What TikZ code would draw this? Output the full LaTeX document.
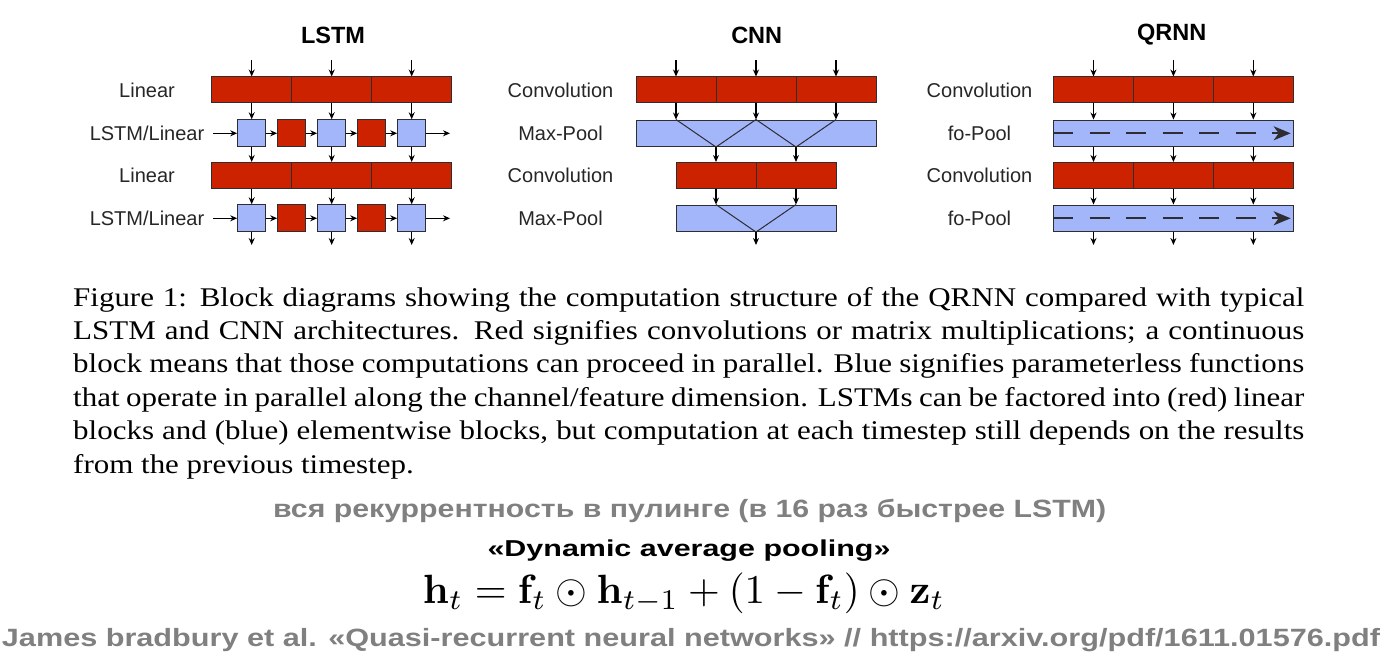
\documentclass[tikz,border=0pt]{standalone}
\usepackage[no-math]{fontspec}
\usepackage{amsmath}
\usepackage{graphicx}
\usepackage{xcolor}
\setmainfont{Liberation Serif}
\newfontfamily\diagfont{Liberation Sans}
\usetikzlibrary{arrows.meta}
\definecolor{convred}{RGB}{204,34,0}
\definecolor{poolblue}{RGB}{164,182,250}
\definecolor{edgegray}{RGB}{45,45,50}
\definecolor{notegray}{RGB}{128,128,128}

\begin{document}
\begin{tikzpicture}[x=1pt, y=-1pt,
    seg/.style={draw=edgegray, line width=1pt, fill=convred, minimum width=80pt, minimum height=26pt, inner sep=0pt},
    cell/.style={draw=edgegray, line width=1pt, minimum width=28pt, minimum height=27pt, inner sep=0pt},
    poolbar/.style={draw=edgegray, line width=1pt, fill=poolblue, minimum height=26.5pt, inner sep=0pt},
    rowname/.style={font=\diagfont\fontsize{20}{20}\selectfont, text=black!85, text height=14.5pt, text depth=0pt, inner sep=0pt},
    paneltitle/.style={font=\diagfont\bfseries\fontsize{23.5}{23.5}\selectfont, inner sep=0pt},
    arrow/.style={-{Stealth[length=7pt,width=6pt]}, line width=1.1pt},
    fopool/.style={-{Stealth[length=17pt,width=14pt,inset=5pt]}, line width=2pt, edgegray, dash pattern=on 20pt off 16.5pt}
]
\useasboundingbox (0,0) rectangle (1389,652);

% LSTM
\node[paneltitle] (lstm) at (333,35) {LSTM};
\node[rowname] (lstmlin1) at (147,90.5) {Linear};
\node[rowname] (lstmrow1) at (147,133.3) {LSTM/Linear};
\node[rowname] (lstmlin2) at (147,175.5) {Linear};
\node[rowname] (lstmrow2) at (147,218.3) {LSTM/Linear};
\foreach \i/\x in {1/251.7,2/331.7,3/411.7} {
  \node[seg] (lin1-\i) at (\x,90) {};
  \node[seg] (lin2-\i) at (\x,175.5) {};
  \node[cell, fill=poolblue] (ua-\i) at (\x,133.3) {};
  \node[cell, fill=poolblue] (ub-\i) at (\x,218.3) {};
  \coordinate (linin-\i) at (\x,60);
  \coordinate (ubout-\i) at (\x,245);
  \draw[arrow] (linin-\i) -- (lin1-\i);
  \draw[arrow] (lin1-\i) -- (ua-\i);
  \draw[arrow] (ua-\i) -- (lin2-\i);
  \draw[arrow] (lin2-\i) -- (ub-\i);
  \draw[arrow] (ub-\i) -- (ubout-\i);
}
\foreach \i/\x in {1/291.7,2/371.7} {
  \node[cell, fill=convred] (ra-\i) at (\x,133.3) {};
  \node[cell, fill=convred] (rb-\i) at (\x,218.3) {};
}
\foreach \r/\y in {a/133.3,b/218.3} {
  \coordinate (hin-\r) at (213,\y);
  \coordinate (hout-\r) at (450,\y);
  \draw[arrow] (hin-\r) -- (u\r-1);
  \draw[arrow] (u\r-1) -- (r\r-1);
  \draw[arrow] (r\r-1) -- (u\r-2);
  \draw[arrow] (u\r-2) -- (r\r-2);
  \draw[arrow] (r\r-2) -- (u\r-3);
  \draw[arrow] (u\r-3) -- (hout-\r);
}

% CNN
\node[paneltitle] (cnn) at (756.7,35) {CNN};
\node[rowname] (cnnconv1) at (560.5,90.5) {Convolution};
\node[rowname] (cnnpool1) at (560.5,133.3) {Max-Pool};
\node[rowname] (cnnconv2) at (560.5,175.5) {Convolution};
\node[rowname] (cnnpool2) at (560.5,218.3) {Max-Pool};
\node[poolbar, minimum width=240pt] (cp1) at (756,133.3) {};
\node[poolbar, minimum width=160pt] (cp2) at (756,218.3) {};
\foreach \i/\x in {1/676,2/756,3/836} {
  \node[seg] (cc1-\i) at (\x,90) {};
  \coordinate (ccin-\i) at (\x,60);
  \draw[arrow] (ccin-\i) -- (cc1-\i);
  \draw[arrow] (cc1-\i) -- (cc1-\i |- cp1.north);
}
\foreach \i/\x in {1/716,2/796} {
  \node[seg] (cc2-\i) at (\x,175.5) {};
  \draw[arrow] (cc2-\i |- cp1.south) -- (cc2-\i);
  \draw[arrow] (cc2-\i) -- (cc2-\i |- cp2.north);
}
\draw[edgegray, line width=1pt] (cc1-1 |- cp1.north) -- (cc2-1 |- cp1.south) -- (cc1-2 |- cp1.north) -- (cc2-2 |- cp1.south) -- (cc1-3 |- cp1.north);
\draw[edgegray, line width=1pt] (cc2-1 |- cp2.north) -- (cp2.south) -- (cc2-2 |- cp2.north);
\coordinate (cpout) at (756,245);
\draw[arrow] (cp2.south) -- (cpout);

% QRNN
\node[paneltitle] (qrnn) at (1171.7,35) {QRNN};
\node[rowname] (qconv1) at (979.5,90.5) {Convolution};
\node[rowname] (qpool1) at (979.5,133.3) {fo-Pool};
\node[rowname] (qconv2) at (979.5,175.5) {Convolution};
\node[rowname] (qpool2) at (979.5,218.3) {fo-Pool};
\node[poolbar, minimum width=239.5pt] (qp1) at (1173.4,133.3) {};
\node[poolbar, minimum width=239.5pt] (qp2) at (1173.4,218.3) {};
\foreach \i/\x in {1/1093.5,2/1173.4,3/1253.3} {
  \node[seg] (qc1-\i) at (\x,90) {};
  \node[seg] (qc2-\i) at (\x,175.5) {};
  \coordinate (qin-\i) at (\x,60);
  \coordinate (qout-\i) at (\x,245);
  \draw[arrow] (qin-\i) -- (qc1-\i);
  \draw[arrow] (qc1-\i) -- (qc1-\i |- qp1.north);
  \draw[arrow] (qc1-\i |- qp1.south) -- (qc2-\i);
  \draw[arrow] (qc2-\i) -- (qc2-\i |- qp2.north);
  \draw[arrow] (qc2-\i |- qp2.south) -- (qout-\i);
}
\draw[fopool] (qp1.west) -- ([xshift=-3pt]qp1.east);
\draw[fopool] (qp2.west) -- ([xshift=-3pt]qp2.east);

% caption and notes
\node[anchor=base west, inner sep=0pt] (caption) at (73,306) {\scalebox{1.147}[1]{\parbox[t]{1073.3pt}{\fontsize{27}{33.4}\selectfont\tolerance=10000\hyphenpenalty=10000
Figure 1: Block diagrams showing the computation structure of the QRNN compared with typical\linebreak
LSTM and CNN architectures. Red signifies convolutions or matrix multiplications; a continuous\linebreak
block means that those computations can proceed in parallel. Blue signifies parameterless functions\linebreak
that operate in parallel along the channel/feature dimension. LSTMs can be factored into (red) linear\linebreak
blocks and (blue) elementwise blocks, but computation at each timestep still depends on the results\linebreak
from the previous timestep.}}};
\node[anchor=base, inner sep=0pt, text=notegray] (speed) at (689.6,517.3) {\resizebox{833pt}{\height}{\diagfont\bfseries\fontsize{25}{25}\selectfont вся рекуррентность в пулинге (в 16 раз быстрее LSTM)}};
\node[anchor=base, inner sep=0pt] (dynavg) at (689,556.5) {\resizebox{403pt}{\height}{\diagfont\bfseries\fontsize{23}{23}\selectfont «Dynamic average pooling»}};
\node[anchor=base, inner sep=0pt] (formula) at (684,603) {\resizebox{522pt}{!}{$\mathbf{h}_t = \mathbf{f}_t \odot \mathbf{h}_{t-1} + (1-\mathbf{f}_t) \odot \mathbf{z}_t$}};
\node[anchor=base, inner sep=0pt, text=notegray] (source) at (691,646) {\resizebox{1378pt}{\height}{\diagfont\bfseries\fontsize{25}{25}\selectfont James bradbury et al. «Quasi-recurrent neural networks» // https://arxiv.org/pdf/1611.01576.pdf}};
\end{tikzpicture}
\end{document}
